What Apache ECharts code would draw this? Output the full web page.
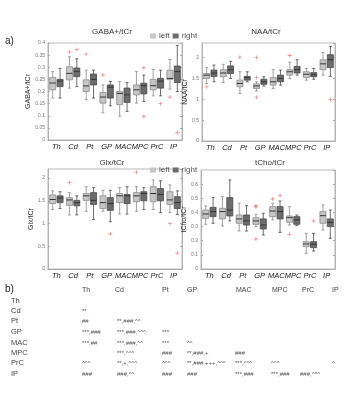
<!DOCTYPE html>
<html>
<head>
<meta charset="utf-8">
<script src="https://cdn.jsdelivr.net/npm/echarts@6/dist/echarts.min.js"></script>
<style>
  html, body { margin: 0; padding: 0; background: #fff; }
  #main { width: 361px; height: 400px; }
</style>
</head>
<body>
<div id="main"></div>
<script>
// regions, left/right hemisphere
const regions = ['Th', 'Cd', 'Pt', 'GP', 'MAC', 'MPC', 'PrC', 'IP'];

// box stats per region: [min, q1, median, q3, max]
const gabaLeft = [
  [0.173, 0.207, 0.235, 0.258, 0.282], [0.214, 0.248, 0.275, 0.302, 0.343],
  [0.166, 0.200, 0.223, 0.248, 0.288], [0.112, 0.152, 0.177, 0.196, 0.227],
  [0.098, 0.146, 0.192, 0.200, 0.241], [0.152, 0.186, 0.207, 0.227, 0.282],
  [0.182, 0.207, 0.224, 0.250, 0.291], [0.210, 0.250, 0.254, 0.288, 0.332]
];
const gabaRight = [
  [0.173, 0.220, 0.243, 0.250, 0.295], [0.220, 0.261, 0.283, 0.297, 0.335],
  [0.173, 0.227, 0.250, 0.272, 0.288], [0.141, 0.173, 0.218, 0.227, 0.241],
  [0.118, 0.155, 0.186, 0.214, 0.237], [0.159, 0.190, 0.224, 0.234, 0.268],
  [0.182, 0.214, 0.243, 0.254, 0.288], [0.200, 0.237, 0.282, 0.305, 0.390]
];
const gabaOutLeft = [['Cd', 0.363], ['Pt', 0.354], ['GP', 0.268], ['IP', 0.177]];
const gabaOutRight = [['Cd', 0.373], ['MPC', 0.298], ['MPC', 0.098], ['PrC', 0.150], ['IP', 0.030]];

const naaLeft = [
  [1.38, 1.50, 1.58, 1.62, 1.76], [1.40, 1.54, 1.63, 1.71, 1.84],
  [1.14, 1.30, 1.38, 1.46, 1.66], [1.20, 1.26, 1.32, 1.37, 1.42],
  [1.26, 1.34, 1.42, 1.52, 1.71], [1.50, 1.58, 1.66, 1.71, 1.89],
  [1.46, 1.52, 1.60, 1.66, 1.74], [1.58, 1.71, 1.85, 1.95, 2.12]
];
const naaRight = [
  [1.42, 1.55, 1.63, 1.70, 1.82], [1.50, 1.62, 1.71, 1.80, 1.91],
  [1.42, 1.46, 1.52, 1.55, 1.66], [1.32, 1.36, 1.42, 1.48, 1.54],
  [1.34, 1.42, 1.50, 1.58, 1.70], [1.58, 1.63, 1.71, 1.79, 1.95],
  [1.48, 1.54, 1.59, 1.64, 1.74], [1.55, 1.76, 1.95, 2.07, 2.27]
];
const naaOutLeft = [['Th', 1.30], ['Pt', 2.01], ['GP', 2.00], ['GP', 1.52], ['GP', 1.05], ['MPC', 2.05]];
const naaOutRight = [['IP', 0.99]];

const glxLeft = [
  [1.31, 1.44, 1.53, 1.63, 1.72], [1.19, 1.40, 1.52, 1.57, 1.68],
  [1.27, 1.51, 1.61, 1.66, 1.81], [1.27, 1.33, 1.46, 1.61, 1.73],
  [1.21, 1.46, 1.61, 1.66, 1.79], [1.27, 1.48, 1.61, 1.68, 1.81],
  [1.31, 1.48, 1.66, 1.81, 1.96], [1.24, 1.42, 1.52, 1.70, 1.85]
];
const glxRight = [
  [1.33, 1.46, 1.56, 1.61, 1.70], [1.19, 1.39, 1.46, 1.51, 1.61],
  [1.09, 1.42, 1.51, 1.68, 1.79], [1.04, 1.29, 1.44, 1.57, 1.73],
  [1.21, 1.44, 1.61, 1.64, 1.81], [1.31, 1.50, 1.66, 1.70, 1.79],
  [1.24, 1.50, 1.64, 1.77, 1.94], [1.20, 1.33, 1.46, 1.59, 1.72]
];
const glxOutLeft = [['Cd', 1.90], ['MPC', 2.13], ['IP', 1.00]];
const glxOutRight = [['GP', 0.77], ['IP', 0.35]];

const tchoLeft = [
  [0.316, 0.358, 0.389, 0.417, 0.446], [0.304, 0.354, 0.406, 0.429, 0.512],
  [0.269, 0.323, 0.354, 0.382, 0.465], [0.300, 0.316, 0.340, 0.363, 0.387],
  [0.347, 0.370, 0.410, 0.441, 0.465], [0.311, 0.330, 0.363, 0.375, 0.441],
  [0.111, 0.158, 0.177, 0.193, 0.252], [0.276, 0.323, 0.377, 0.406, 0.453]
];
const tchoRight = [
  [0.323, 0.370, 0.406, 0.436, 0.505], [0.340, 0.375, 0.417, 0.505, 0.630],
  [0.269, 0.311, 0.340, 0.382, 0.448], [0.240, 0.283, 0.311, 0.354, 0.394],
  [0.259, 0.354, 0.406, 0.441, 0.481], [0.307, 0.316, 0.347, 0.370, 0.382],
  [0.127, 0.151, 0.175, 0.193, 0.252], [0.217, 0.300, 0.330, 0.354, 0.417]
];
const tchoOutLeft = [['GP', 0.446], ['GP', 0.440], ['GP', 0.212], ['MAC', 0.495], ['MPC', 0.245]];
const tchoOutRight = [['MAC', 0.519], ['PrC', 0.340]];

// b) pairwise significance table: [row, column, marks]
const pairNames = ['Th', 'Cd', 'Pt', 'GP', 'MAC', 'MPC', 'PrC', 'IP'];
const sigCells = [
  ['Cd', 'Th', '**'],
  ['Pt', 'Th', '##'], ['Pt', 'Cd', '**,###,^^'],
  ['GP', 'Th', '***,###'], ['GP', 'Cd', '***,###,^^^'], ['GP', 'Pt', '***'],
  ['MAC', 'Th', '***,##'], ['MAC', 'Cd', '***,###,^^'], ['MAC', 'Pt', '***'], ['MAC', 'GP', '^^'],
  ['MPC', 'Cd', '***,^^^'], ['MPC', 'Pt', '###'], ['MPC', 'GP', '**,###,+'], ['MPC', 'MAC', '###'],
  ['PrC', 'Th', '^^^'], ['PrC', 'Cd', '**,+,^^^'], ['PrC', 'Pt', '^^^'], ['PrC', 'GP', '**,###,+++,^^^'],
  ['PrC', 'MAC', '***,^^^'], ['PrC', 'MPC', '^^^'], ['PrC', 'IP', '^'],
  ['IP', 'Th', '###'], ['IP', 'Cd', '###,^^'], ['IP', 'Pt', '###'], ['IP', 'GP', '###'],
  ['IP', 'MAC', '***,###'], ['IP', 'MPC', '***,###'], ['IP', 'PrC', '###,^^^']
];

// layout
const panels = [
  { title: 'GABA+/tCr', yName: 'GABA+/tCr', left: gabaLeft, right: gabaRight, outL: gabaOutLeft, outR: gabaOutRight,
    max: 0.4, interval: 0.05, grid: { left: 48, top: 43, width: 134, height: 97 }, titleX: 112, titleY: 32, nameGap: 14 },
  { title: 'NAA/tCr', yName: 'NAA/tCr', left: naaLeft, right: naaRight, outL: naaOutLeft, outR: naaOutRight,
    max: 2.35, interval: 0.5, grid: { left: 202, top: 43, width: 133, height: 98 }, titleX: 266, titleY: 32, nameGap: 11 },
  { title: 'Glx/tCr', yName: 'Glx/tCr', left: glxLeft, right: glxRight, outL: glxOutLeft, outR: glxOutRight,
    max: 2.2, interval: 0.5, grid: { left: 48, top: 169, width: 134, height: 100 }, titleX: 112, titleY: 163, nameGap: 13 },
  { title: 'tCho/tCr', yName: 'tCho/tCr', left: tchoLeft, right: tchoRight, outL: tchoOutLeft, outR: tchoOutRight,
    max: 0.7, interval: 0.1, grid: { left: 201, top: 170, width: 134, height: 99 }, titleX: 270, titleY: 163, nameGap: 11 }
];
const headX = [82, 115, 162, 187, 236, 272, 302, 332];
const cellX = [82, 117, 162, 187, 235, 271, 300, 332];
const rowY = [301, 311, 321, 332, 343, 353, 363, 374];

const font = 'Liberation Sans, Arial, sans-serif';
const frame = '#a8a8a8';
const lightFill = '#c6c6c6', lightEdge = '#8c8c8c';
const darkFill = '#6c6c6c', darkEdge = '#4a4a4a';
const plus = 'path://M4,0H6V4H10V6H6V10H4V6H0V4H4Z';

function boxItem(side) {
  return function (params, api) {
    const i = api.value(0);
    const band = api.size([1, 0])[0];
    const x = api.coord([i, 0])[0] + side * band * 0.22;
    const half = band * 0.18;
    const cap = band * 0.09;
    const y = [1, 2, 3, 4, 5].map(k => api.coord([i, api.value(k)])[1]);
    const fill = side < 0 ? lightFill : darkFill;
    const edge = side < 0 ? lightEdge : darkEdge;
    const ln = { stroke: edge, lineWidth: 0.8 };
    return {
      type: 'group',
      children: [
        { type: 'line', shape: { x1: x, y1: y[4], x2: x, y2: y[3] }, style: ln },
        { type: 'line', shape: { x1: x, y1: y[1], x2: x, y2: y[0] }, style: ln },
        { type: 'line', shape: { x1: x - cap, y1: y[4], x2: x + cap, y2: y[4] }, style: ln },
        { type: 'line', shape: { x1: x - cap, y1: y[0], x2: x + cap, y2: y[0] }, style: ln },
        { type: 'rect', shape: { x: x - half, y: y[3], width: half * 2, height: y[1] - y[3] },
          style: { fill: fill, stroke: edge, lineWidth: 0.8 } },
        { type: 'line', shape: { x1: x - half, y1: y[2], x2: x + half, y2: y[2] },
          style: { stroke: '#333', lineWidth: 1 } }
      ]
    };
  };
}

const grid = [], xAxis = [], yAxis = [], series = [], graphic = [];

panels.forEach((p, g) => {
  grid.push(Object.assign({ show: true, borderColor: frame, borderWidth: 0.8, backgroundColor: '#fff' }, p.grid));

  // bottom and mirrored top category axes
  xAxis.push({
    type: 'category', gridIndex: g, data: regions,
    axisLine: { lineStyle: { color: frame, width: 0.8 } },
    axisTick: { inside: true, length: 2, alignWithLabel: true, lineStyle: { color: frame } },
    axisLabel: { fontFamily: font, fontSize: 7.5, fontStyle: 'italic', color: '#222', margin: 3, interval: 0 }
  });
  xAxis.push({
    type: 'category', gridIndex: g, data: regions, position: 'top',
    axisLine: { lineStyle: { color: frame, width: 0.8 } },
    axisTick: { inside: true, length: 2, alignWithLabel: true, lineStyle: { color: frame } },
    axisLabel: { show: false }
  });
  // left and mirrored right value axes
  yAxis.push({
    type: 'value', gridIndex: g, min: 0, max: p.max, interval: p.interval,
    name: p.yName, nameLocation: 'middle', nameGap: p.nameGap,
    nameTextStyle: { fontFamily: font, fontSize: 7, color: '#333' },
    axisLine: { show: true, lineStyle: { color: frame, width: 0.8 } },
    axisTick: { show: true, inside: true, length: 2, lineStyle: { color: frame } },
    axisLabel: { fontFamily: font, fontSize: 5, color: '#777', margin: 3, showMaxLabel: p.max / p.interval % 1 === 0 },
    splitLine: { show: false }
  });
  yAxis.push({
    type: 'value', gridIndex: g, min: 0, max: p.max, interval: p.interval, position: 'right',
    axisLine: { show: true, lineStyle: { color: frame, width: 0.8 } },
    axisTick: { show: true, inside: true, length: 2, lineStyle: { color: frame } },
    axisLabel: { show: false }, splitLine: { show: false }
  });

  const xi = g * 2, yi = g * 2;
  [[p.left, -1, 'left', lightFill], [p.right, 1, 'right', darkFill]].forEach(([stats, side, name, color]) => {
    series.push({
      type: 'custom', name: name, xAxisIndex: xi, yAxisIndex: yi,
      itemStyle: { color: color },
      encode: { x: 0, y: [1, 2, 3, 4, 5] },
      renderItem: boxItem(side),
      data: stats.map((s, i) => [i].concat(s)),
      z: 3
    });
  });
  [[p.outL, -1], [p.outR, 1]].forEach(([pts, side]) => {
    series.push({
      type: 'scatter', name: side < 0 ? 'out left' : 'out right', xAxisIndex: xi, yAxisIndex: yi,
      symbol: plus, symbolSize: 4, symbolOffset: [side * 3.7, 0],
      itemStyle: { color: '#ef6f6f' },
      data: pts.map(d => [regions.indexOf(d[0]), d[1]]),
      z: 4
    });
  });

  graphic.push({
    type: 'text', x: p.titleX, y: p.titleY,
    style: { text: p.title, font: '8px ' + font, fill: '#333', align: 'center', verticalAlign: 'middle' }
  });
});

// panel letters
graphic.push({ type: 'text', x: 5, y: 41, style: { text: 'a)', font: '10px ' + font, fill: '#222', verticalAlign: 'middle' } });
graphic.push({ type: 'text', x: 5, y: 289, style: { text: 'b)', font: '10px ' + font, fill: '#222', verticalAlign: 'middle' } });

// b) table
pairNames.forEach((n, i) => {
  graphic.push({ type: 'text', x: headX[i], y: 290, style: { text: n, font: '7px ' + font, fill: '#444', verticalAlign: 'middle' } });
  graphic.push({ type: 'text', x: 11, y: rowY[i], style: { text: n, font: '7.5px ' + font, fill: '#444', verticalAlign: 'middle' } });
});
sigCells.forEach(([r, c, t]) => {
  graphic.push({
    type: 'text', x: cellX[pairNames.indexOf(c)], y: rowY[pairNames.indexOf(r)],
    style: { text: t, font: '6px ' + font, fill: '#555', verticalAlign: 'middle' }
  });
});

const legendStyle = {
  data: ['left', 'right'], icon: 'rect', itemWidth: 6, itemHeight: 5, itemGap: 3,
  textStyle: { fontFamily: font, fontSize: 8, color: '#555', padding: [0, 0, 0, -2] },
  selectedMode: false
};

const option = {
  backgroundColor: '#fff',
  animation: false,
  legend: [
    Object.assign({ left: 145, top: 27 }, legendStyle),
    Object.assign({ left: 145, top: 161 }, legendStyle)
  ],
  grid: grid,
  xAxis: xAxis,
  yAxis: yAxis,
  series: series,
  graphic: graphic
};

const chart = echarts.init(document.getElementById('main'));
chart.setOption(option);
</script>
</body>
</html>
